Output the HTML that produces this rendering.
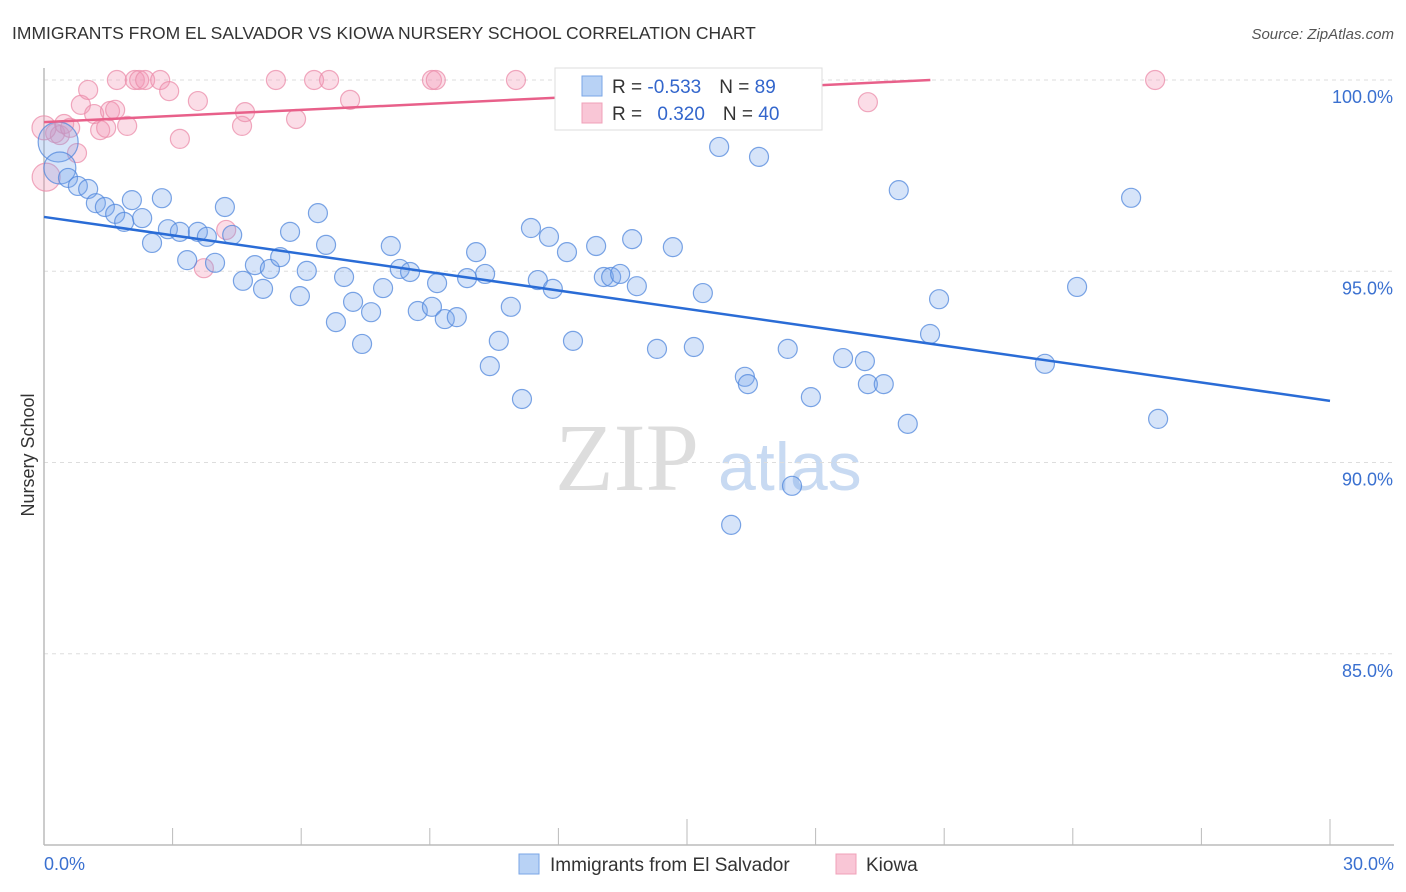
<!DOCTYPE html>
<html><head><meta charset="utf-8"><style>
body{margin:0;background:#fff;font-family:"Liberation Sans",sans-serif;}
svg{display:block}
</style></head><body>
<svg id="chart" width="1406" height="892" viewBox="0 0 1406 892">
<text x="12" y="39" font-size="17.5" fill="#333">IMMIGRANTS FROM EL SALVADOR VS KIOWA NURSERY SCHOOL CORRELATION CHART</text>
<text x="1394" y="39" font-size="15" fill="#555" font-style="italic" text-anchor="end">Source: ZipAtlas.com</text>
<text x="555" y="490" font-size="96" font-family="Liberation Serif,serif" fill="#ddd">ZIP</text>
<text x="718" y="490" font-size="68" fill="#c8daf2">atlas</text>
<text transform="translate(34,455) rotate(-90)" font-size="18" fill="#333" text-anchor="middle">Nursery School</text>
<g id="grid"></g><g id="axes"></g><g id="marks"></g>
<g>
<rect x="555" y="68" width="267" height="62" fill="#fff" stroke="#ddd"/>
<rect x="582" y="76" width="20" height="20" fill="#b8d2f5" stroke="#7aa6e6"/>
<rect x="582" y="103" width="20" height="20" fill="#f9c6d6" stroke="#f0a0b8"/>
<text x="612" y="93" font-size="19" fill="#333">R = <tspan fill="#3366cc">-0.533</tspan><tspan dx="18">N = </tspan><tspan fill="#3366cc">89</tspan></text>
<text x="612" y="120" font-size="19" fill="#333">R = <tspan fill="#3366cc" dx="10">0.320</tspan><tspan dx="18">N = </tspan><tspan fill="#3366cc">40</tspan></text>
</g>
<g>
<rect x="519" y="854" width="20" height="20" fill="#b8d2f5" stroke="#7aa6e6"/>
<text x="550" y="871" font-size="19" fill="#333">Immigrants from El Salvador</text>
<rect x="836" y="854" width="20" height="20" fill="#f9c6d6" stroke="#f0a0b8"/>
<text x="866" y="871" font-size="19" fill="#333">Kiowa</text>
</g>
</svg>
<script>
const yTicks=[100,95,90,85];
const yTickLabels=["100.0%","95.0%","90.0%","85.0%"];
const xTickLabels=["0.0%","30.0%"];
const blueX=[0.33,0.37,0.56,0.79,1.03,1.21,1.42,1.66,1.87,2.05,2.29,2.52,2.75,2.89,3.17,3.34,3.59,3.80,3.99,4.22,4.39,4.64,4.92,5.11,5.27,5.51,5.74,5.97,6.13,6.39,6.58,6.81,7.00,7.21,7.42,7.63,7.91,8.09,8.30,8.54,8.72,9.05,9.17,9.35,9.63,9.87,10.08,10.29,10.40,10.61,10.89,11.15,11.36,11.52,11.78,11.87,12.20,12.34,12.88,13.06,13.23,13.44,13.72,13.83,14.30,14.67,15.16,15.37,15.75,16.03,16.35,16.42,16.68,17.35,17.45,17.89,18.64,19.15,19.22,19.59,19.94,20.15,20.67,20.88,23.35,24.10,25.36,25.99];
const blueY=[98.38,97.70,97.44,97.23,97.15,96.78,96.68,96.50,96.29,96.86,96.39,95.74,96.91,96.10,96.03,95.29,96.03,95.90,95.22,96.68,95.95,94.75,95.16,94.54,95.06,95.37,96.03,94.35,95.01,96.52,95.69,93.67,94.85,94.20,93.10,93.93,94.56,95.66,95.06,94.98,93.96,94.07,94.69,93.75,93.80,94.82,95.50,94.93,92.52,93.18,94.07,91.66,96.13,94.77,95.90,94.54,95.50,93.18,95.66,94.85,94.85,94.93,95.84,94.61,92.97,95.63,93.02,94.43,98.25,88.37,92.24,92.05,97.99,92.97,89.39,91.71,92.73,92.65,92.05,92.05,97.12,91.01,93.36,94.27,92.58,94.59,96.92,91.14];
const pinkX=[0.05,0.26,0.37,0.47,0.61,0.77,0.86,1.03,1.17,1.31,1.45,1.54,1.66,1.70,1.94,2.12,2.22,2.36,2.71,2.92,3.17,3.59,3.73,4.25,4.62,4.69,5.41,5.88,6.30,6.65,7.14,9.05,9.14,11.01,13.93,16.24,16.47,19.22,25.92,0];
const pinkY=[97.46,98.61,98.56,98.85,98.75,98.09,99.35,99.74,99.11,98.69,98.75,99.19,99.22,100,98.80,100,100,100,100,99.71,98.46,99.45,95.08,96.08,98.80,99.16,100,98.98,100,100,99.48,100,100,100,99.82,100,99.45,99.42,100,98.75];
const blueTrend=[96.42,-0.1603];
const pinkTrend=[98.90,0.0532];
const X0=44,X1=1330,Y0=80,Y1=845,XMIN=0,XMAX=30,YMIN=80,YMAX=100;
const sx=v=>X0+(v-XMIN)/(XMAX-XMIN)*(X1-X0);
const sy=v=>Y1-(v-YMIN)/(YMAX-YMIN)*(Y1-Y0);
const NS="http://www.w3.org/2000/svg";
function mk(tag,attrs,parent){const e=document.createElementNS(NS,tag);for(const k in attrs)e.setAttribute(k,attrs[k]);parent.appendChild(e);return e;}
const grid=document.getElementById('grid'),axes=document.getElementById('axes'),marks=document.getElementById('marks');
yTicks.forEach((t,i)=>{
 const l=mk('line',{x1:X0,x2:1394,y1:sy(t),y2:sy(t),stroke:'#ddd','stroke-dasharray':'4,4'},grid);
 
 
 const tx=mk('text',{x:1393,y:sy(t)+23,'font-size':18,fill:'#3a70d0','text-anchor':'end'},axes);
 tx.textContent=yTickLabels[i];
 
 
});
const ax=mk('line',{x1:X0,x2:1394,y1:Y1,y2:Y1,stroke:'#bbb','stroke-width':1.5},axes);


const ay=mk('line',{x1:X0,x2:X0,y1:68,y2:Y1,stroke:'#bbb','stroke-width':1.5},axes);


for(let i=0;i<=10;i++){
 const v=i*3;const tall=(i===5||i===10);
 const tk=mk('line',{x1:sx(v),x2:sx(v),y1:tall?819:828,y2:Y1,stroke:'#bbb'},axes);
 
 
}
[[0,'start'],[30,'end']].forEach((p,i)=>{
 const tx=mk('text',{x:i?1394:44,y:870,'font-size':18,fill:'#3a70d0','text-anchor':p[1]},axes);
 tx.textContent=xTickLabels[i];
 
 
});
function dots(xs,ys,fill,stroke,name,big){
 xs.forEach((x,i)=>{
  const r=big[i]||9.5;
  const c=mk('circle',{cx:sx(x),cy:sy(ys[i]),r:r,fill:fill,stroke:stroke,'stroke-width':1.2},marks);
  
  
 });
}
dots(pinkX,pinkY,'rgba(242,150,180,0.32)','rgba(235,140,170,0.75)','kiowa-point',{0:14,39:12});
dots(blueX,blueY,'rgba(120,165,235,0.3)','rgba(80,135,220,0.75)','el-salvador-point',{0:20,1:16});
const bl=mk('line',{x1:sx(0),y1:sy(blueTrend[0]),x2:sx(30),y2:sy(blueTrend[0]+blueTrend[1]*30),stroke:'#2a6cd6','stroke-width':2.5},marks);


const pEnd=Math.min(30,(100-pinkTrend[0])/pinkTrend[1]);
const pl=mk('line',{x1:sx(0),y1:sy(pinkTrend[0]),x2:sx(pEnd),y2:sy(pinkTrend[0]+pinkTrend[1]*pEnd),stroke:'#e8608a','stroke-width':2.5},marks);


</script>
</body></html>
